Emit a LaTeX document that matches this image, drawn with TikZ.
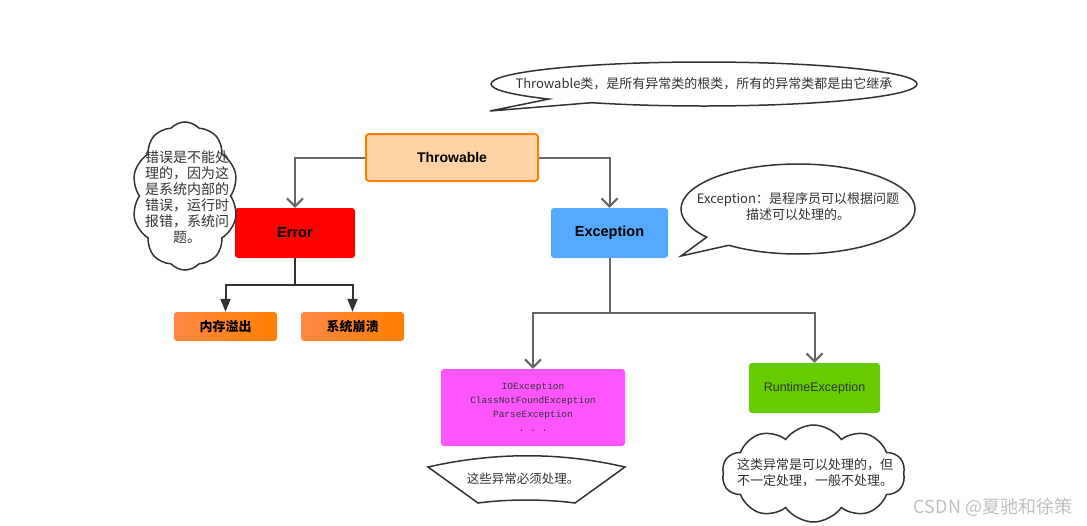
\documentclass[tikz,border=0pt]{standalone}
\usepackage{fontspec}
\setmainfont{Liberation Sans}
\setmonofont{Liberation Mono}
\newfontfamily\cjk{Noto Sans CJK SC}
\usetikzlibrary{arrows.meta,shapes.symbols,shapes.callouts,positioning}
\definecolor{thrfill}{HTML}{FFD3A6}
\definecolor{thrline}{HTML}{FF8000}
\definecolor{errred}{HTML}{FF0000}
\definecolor{excblue}{HTML}{55AAFF}
\definecolor{subleft}{HTML}{FF8844}
\definecolor{subright}{HTML}{FF8000}
\definecolor{chkpink}{HTML}{FF55FF}
\definecolor{rtgreen}{HTML}{66CC00}
\definecolor{linegray}{HTML}{666666}
\definecolor{linedark}{HTML}{333333}
\newcommand{\fs}[2]{\fontsize{#1}{#2}\selectfont}
\tikzset{
  box/.style={rectangle, rounded corners=3pt, inner sep=0pt},
  conn/.style={draw=linegray, line width=2pt,
    -{Straight Barb[length=8pt,width=16pt,line width=2pt]}},
  dconn/.style={draw=linedark, line width=2pt, -{Triangle[length=13pt,width=10pt]}},
  note/.style={draw=linedark, line width=1.5pt, fill=white},
  notetext/.style={inner sep=0pt, text=linedark, font=\cjk\fs{13}{16}}
}
\begin{document}
\begin{tikzpicture}[x=1pt,y=-1pt]
    \useasboundingbox (0,0) rectangle (1087,525);
    % class boxes
    \node[box, fill=thrfill, draw=thrline, line width=2pt, minimum width=172, minimum height=47,
      font=\bfseries\fs{14}{16}] (throw) at (452,157.5) {Throwable};
    \node[box, fill=errred, minimum width=120, minimum height=50,
      font=\bfseries\fs{14.5}{16}] (error) at (295,233) {Error};
    \node[box, fill=excblue, minimum width=117, minimum height=50,
      font=\bfseries\fs{14.5}{16}] (exc) at (609.5,233) {Exception};
    \node[box, left color=subleft, right color=subright, minimum width=103, minimum height=29,
      font=\cjk\bfseries\fs{13}{16}] (oom) at (225.5,326.5) {内存溢出};
    \node[box, left color=subleft, right color=subright, minimum width=103, minimum height=29,
      font=\cjk\bfseries\fs{13}{16}] (crash) at (352.5,326.5) {系统崩溃};
    \node[box, fill=chkpink, minimum width=184, minimum height=77, align=center,
      text=linedark, font=\ttfamily\fs{9.5}{14}] (checked) at (533,407.5)
      {IOException\\ClassNotFoundException\\ParseException\\.\ .\ .};
    \node[box, fill=rtgreen, minimum width=131, minimum height=50,
      text=linedark, font=\fs{12.5}{16}] (runtime) at (814.5,388) {RuntimeException};
    % connectors
    \coordinate (ejoin) at (295,285);
    \coordinate (xjoin) at (609.5,313);
    \draw[conn] (throw.west) -| (error.north);
    \draw[conn] (throw.east) -| (exc.north);
    \draw[dconn] (error.south) -- (ejoin) -| (oom.north);
    \draw[dconn] (ejoin) -| (crash.north);
    \draw[conn] (exc.south) -- (xjoin) -| (checked.north);
    \draw[conn] (xjoin) -| (runtime.north);
    % notes
    \node[note, ellipse callout, minimum width=426, minimum height=44,
      callout absolute pointer={(490,111)}] (thrnote) at (704,84) {};
    \node[notetext] (thrtext) at (thrnote.center) {Throwable类，是所有异常类的根类，所有的异常类都是由它继承};
    \node[note, ellipse callout, minimum width=234, minimum height=90,
      callout absolute pointer={(681,256)}] (excnote) at (798,209) {};
    \node[notetext, align=center] (exctext) at (798,207) {Exception：是程序员可以根据问题\\描述可以处理的。};
    \node[note, cloud, cloud puffs=10, cloud puff arc=95, cloud ignores aspect,
      minimum width=106, minimum height=148] (errnote) at (185,196) {};
    \node[notetext, align=center, font=\cjk\fs{14}{16}] (errtext) at (187,197)
      {错误是不能处\\理的，因为这\\是系统内部的\\错误，运行时\\报错，系统问\\题。};
    \node[note, cloud, cloud puffs=10, cloud puff arc=110, cloud ignores aspect,
      minimum width=183, minimum height=97] (rtnote) at (813.5,473.5) {};
    \node[notetext, align=left] (rttext) at (815,473)
      {这类异常是可以处理的，但\\不一定处理，一般不处理。};
    \draw[note] (428,467) .. controls (495,452) and (560,452) .. (625,467)
      -- (575,503) .. controls (545,499) and (508,499) .. (478,503) -- cycle;
    \node[notetext, font=\cjk\fs{12.5}{16}] (chktext) at (523,479) {这些异常必须处理。};
    \node[inner sep=0pt, text=black!25, font=\cjk\fs{18}{20}] (mark) at (993,507) {CSDN @夏驰和徐策};
  \end{tikzpicture}
\end{document}
